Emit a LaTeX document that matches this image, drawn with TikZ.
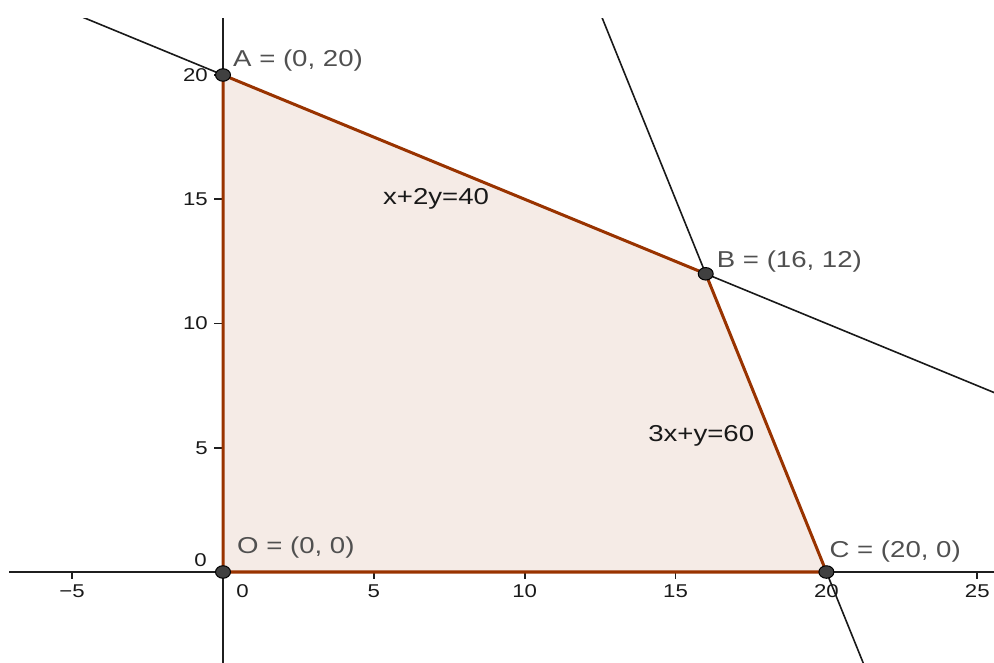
\documentclass[tikz,border=0pt]{standalone}
\usepackage{fontspec}
\setmainfont{Liberation Sans}
\newfontfamily\gfont[FakeStretch=1.2]{Liberation Sans}
\usetikzlibrary{shapes.geometric}
\definecolor{polyedge}{RGB}{153,51,0}
\definecolor{polyfill}{RGB}{245,235,230}
\definecolor{ptfill}{RGB}{64,64,64}
\definecolor{lblgray}{RGB}{80,80,80}
\begin{document}
\begin{tikzpicture}[x=1pt,y=1pt,
  axis/.style={line width=2pt, draw=black!88},
  tickmark/.style={line width=1.6pt, draw=black!88},
  cline/.style={line width=1.6pt, draw=black!90},
  edge/.style={line width=3pt, draw=polyedge, line join=round},
  ptnode/.style={ellipse, draw=black, line width=1pt, fill=ptfill, minimum width=15pt, minimum height=12.5pt, inner sep=0},
  ticklbl/.style={font=\gfont\fontsize{18.5}{20}\selectfont, text=black!90, inner sep=0},
  ptlbl/.style={font=\gfont\fontsize{23}{25}\selectfont, text=lblgray, inner sep=0, anchor=base west},
  eqlbl/.style={font=\gfont\fontsize{23}{25}\selectfont, text=black!90, inner sep=0, anchor=base west},
]
\useasboundingbox (0,0) rectangle (994,662);
\begin{scope}[shift={(223pt,90pt)}, x=30.17pt, y=24.85pt]
  \coordinate (O) at (0,0);
  \coordinate (A) at (0,20);
  \coordinate (B) at (16,12);
  \coordinate (C) at (20,0);
  \coordinate (Xl) at (-7.2,0);
  \coordinate (Xr) at (25.7,0);
  \coordinate (Yb) at (0,-3.7);
  \coordinate (Yt) at (0,22.3);
  \coordinate (L1s) at (-6,23);
  \coordinate (L1e) at (26,7);
  \coordinate (L2s) at (12.3333,23);
  \coordinate (L2e) at (21.3333,-4);
  \coordinate (E1) at (5.30,14.77);
  \coordinate (E2) at (14.09,5.24);
  \foreach \t/\n in {-5/m5,5/p5,10/p10,15/p15,20/p20,25/p25} {\coordinate (xt\n) at (\t,0);}
  \foreach \t/\n in {5/p5,10/p10,15/p15,20/p20} {\coordinate (yt\n) at (0,\t);}
  \begin{scope}
    \clip (-7.09,-3.63) rectangle (25.56,22.29);
    \fill[polyfill] (O) -- (A) -- (B) -- (C) -- cycle;
    \draw[axis] (Xl) -- (Xr);
    \draw[axis] (Yb) -- (Yt);
    \foreach \n in {m5,p5,p10,p15,p20,p25} {\draw[tickmark] (xt\n) -- ++(0pt,-7pt);}
    \foreach \n in {p5,p10,p15,p20} {\draw[tickmark] (yt\n) -- ++(-9pt,0pt);}
    \draw[cline] (L1s) -- (L1e);
    \draw[cline] (L2s) -- (L2e);
    \draw[edge] (O) -- (A) -- (B) -- (C) -- cycle;
    \node[ptnode] (pO) at (O) {};
    \node[ptnode] (pA) at (A) {};
    \node[ptnode] (pB) at (B) {};
    \node[ptnode] (pC) at (C) {};
  \end{scope}
\end{scope}
% tick labels
\foreach \n/\l in {m5/−5,p5/5,p10/10,p15/15,p20/20,p25/25} {
  \node[ticklbl, anchor=base] (tx\n) at ([yshift=-25pt]xt\n) {\l};
}
\foreach \n/\l in {p5/5,p10/10,p15/15,p20/20} {
  \node[ticklbl, anchor=east] (ty\n) at ([xshift=-15pt]yt\n) {\l};
}
\node[ticklbl, anchor=base] (tx0) at ([xshift=19.5pt,yshift=-25pt]O) {0};
\node[ticklbl, anchor=east] (ty0) at ([xshift=-16pt,yshift=12pt]O) {0};
% point labels
\node[ptlbl] (lA) at ([xshift=10pt,yshift=8pt]A) {A = (0, 20)};
\node[ptlbl] (lB) at ([xshift=11pt,yshift=6.3pt]B) {B = (16, 12)};
\node[ptlbl] (lC) at ([xshift=3pt,yshift=14pt]C) {C = (20, 0)};
\node[ptlbl] (lO) at ([xshift=14pt,yshift=18pt]O) {O = (0, 0)};
% equation labels
\node[eqlbl] (eq1) at (E1) {x+2y=40};
\node[eqlbl] (eq2) at (E2) {3x+y=60};
\end{tikzpicture}
\end{document}
